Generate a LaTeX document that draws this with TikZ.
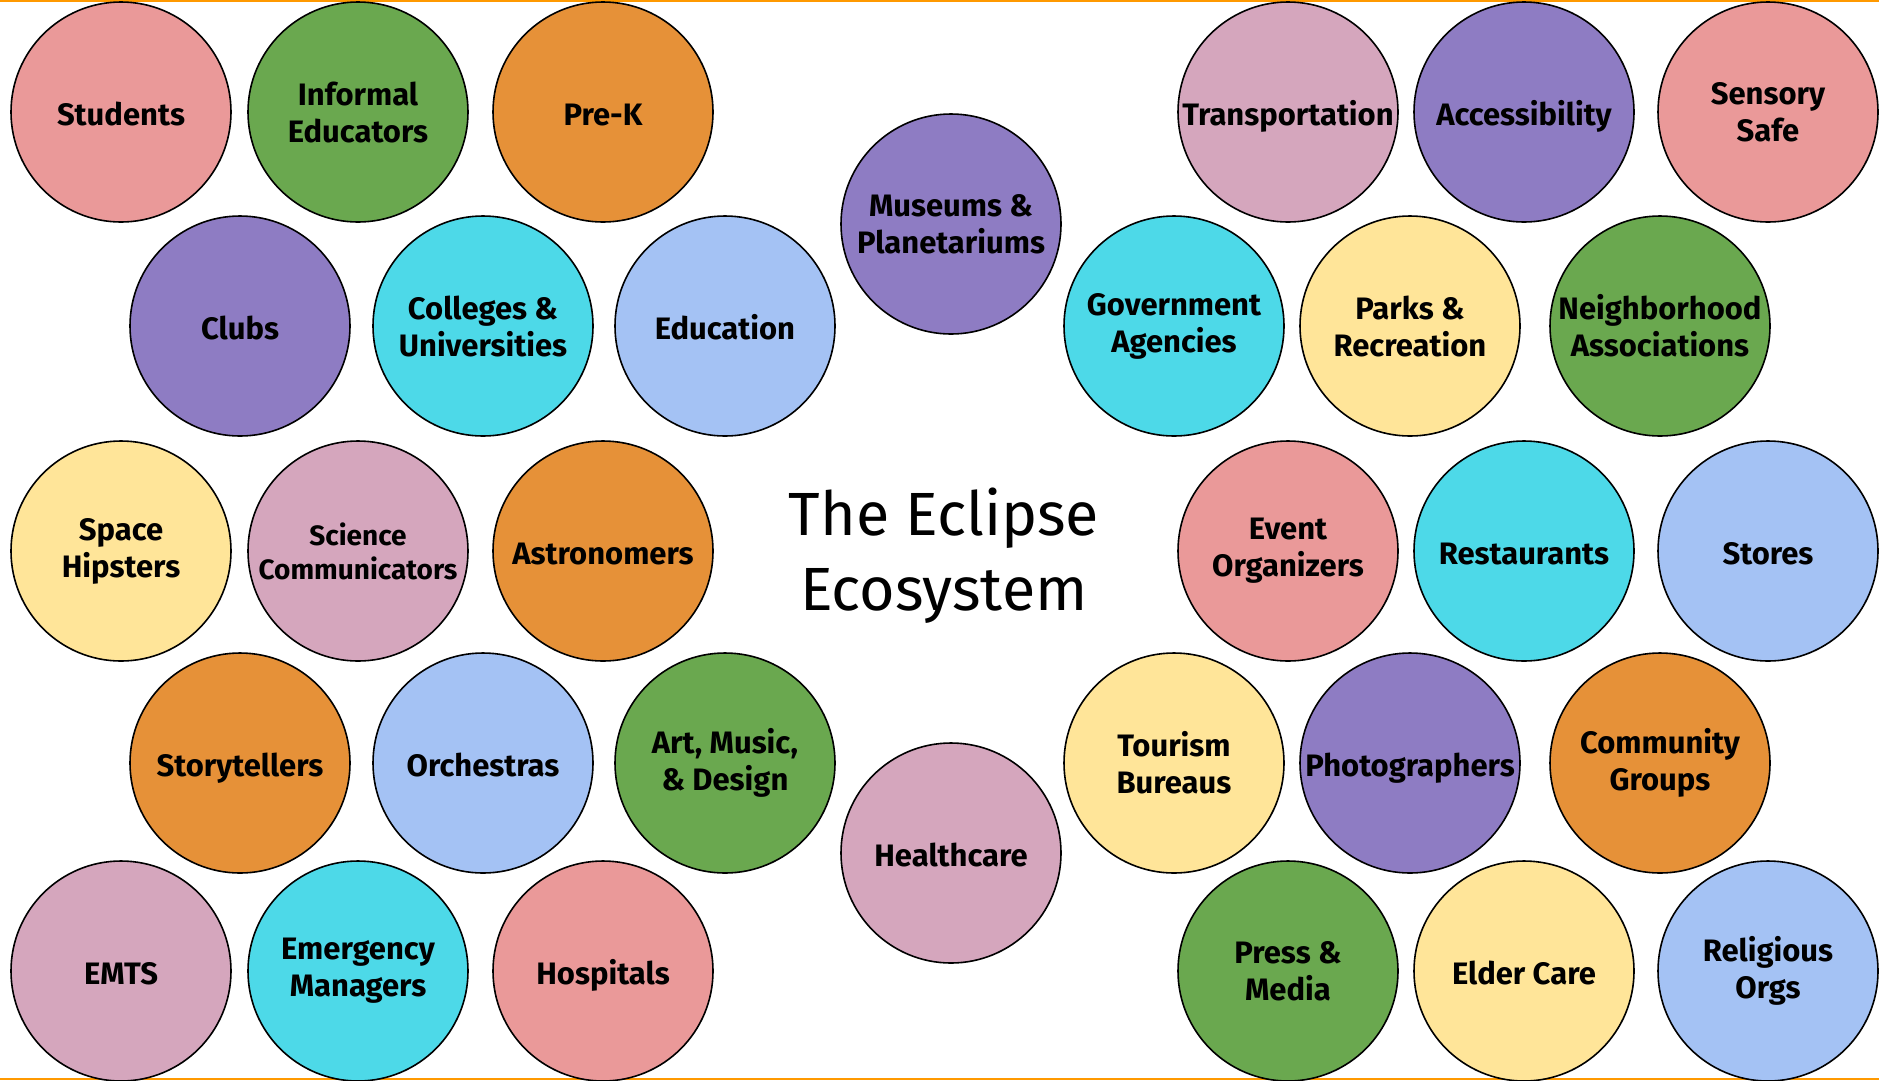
\documentclass[tikz,border=0pt]{standalone}
\usepackage{fontspec}
\setmainfont{Fira Sans}
\newfontfamily\titlefont{Fira Sans}
\usetikzlibrary{positioning}
\definecolor{cpink}{HTML}{EA9999}
\definecolor{cgreen}{HTML}{6AA84F}
\definecolor{corange}{HTML}{E69138}
\definecolor{cpurple}{HTML}{8E7CC3}
\definecolor{ccyan}{HTML}{4DD9E8}
\definecolor{cblue}{HTML}{A4C2F4}
\definecolor{cyellow}{HTML}{FFE599}
\definecolor{cmauve}{HTML}{D5A6BD}
\definecolor{frame}{HTML}{FF9900}
\tikzset{
  bubble/.style={circle, draw=black, line width=1.6pt, minimum size=220pt, inner sep=0pt,
    align=center, font=\bfseries\fontsize{31}{37}\selectfont, text=black},
  one/.style={bubble,
    execute at begin node={\rule{0pt}{33pt}},
    execute at end node={\rule[-6pt]{0pt}{6pt}}},
  two/.style={bubble, yshift=0pt},
  title/.style={align=center, font=\titlefont\fontsize{61}{75}\selectfont}
}
\begin{document}
\begin{tikzpicture}[x=1pt,y=-1pt]
\useasboundingbox (0,0) rectangle (1879,1080);
\fill[white] (0,0) rectangle (1879,1080);
\fill[frame] (0,0) rectangle (1879,2);
\fill[frame] (0,1078) rectangle (1879,1080);
% row 1
\node[one, fill=cpink]   (students) at (121,112) {Students};
\node[two, fill=cgreen]  (informal) at (358,112) {Informal\\Educators};
\node[one, fill=corange] (prek)     at (603,112) {Pre-K};
\node[one, fill=cmauve]  (transp)   at (1288,112) {Transportation};
\node[one, fill=cpurple] (access)   at (1524,112) {Accessibility};
\node[two, fill=cpink]   (sensory)  at (1768,112) {Sensory\\Safe};
\node[two, fill=cpurple] (museums)  at (951,224) {Museums \&\\Planetariums};
% row 2
\node[one, fill=cpurple] (clubs)    at (240,326) {Clubs};
\node[two, fill=ccyan]   (colleges) at (483,326) {Colleges \&\\Universities};
\node[one, fill=cblue]   (educ)     at (725,326) {Education};
\node[two, fill=ccyan]   (gov)      at (1174,326) {Government\\Agencies};
\node[two, fill=cyellow] (parks)    at (1410,326) {Parks \&\\Recreation};
\node[two, fill=cgreen]  (neigh)    at (1660,326) {Neighborhood\\Associations};
% row 3
\node[two, fill=cyellow] (space)    at (121,551) {Space\\Hipsters};
\node[two, fill=cmauve, font=\bfseries\fontsize{28}{34}\selectfont] (science) at (358,551) {Science\\Communicators};
\node[one, fill=corange] (astro)    at (603,551) {Astronomers};
\node[two, fill=cpink]   (event)    at (1288,551) {Event\\Organizers};
\node[one, fill=ccyan]   (rest)     at (1524,551) {Restaurants};
\node[one, fill=cblue]   (stores)   at (1768,551) {Stores};
\node[title] (ttl) at (944,556) {The Eclipse\\Ecosystem};
% row 4
\node[one, fill=corange] (story)    at (240,763) {Storytellers};
\node[one, fill=cblue]   (orch)     at (483,763) {Orchestras};
\node[two, fill=cgreen]  (art)      at (725,763) {Art, Music,\\\& Design};
\node[two, fill=cyellow] (tourism)  at (1174,763) {Tourism\\Bureaus};
\node[one, fill=cpurple] (photo)    at (1410,763) {Photographers};
\node[two, fill=corange] (commun)   at (1660,763) {Community\\Groups};
\node[one, fill=cmauve]  (health)   at (951,853) {Healthcare};
% row 5
\node[one, fill=cmauve]  (emts)     at (121,971) {EMTS};
\node[two, fill=ccyan]   (emerg)    at (358,971) {Emergency\\Managers};
\node[one, fill=cpink]   (hosp)     at (603,971) {Hospitals};
\node[two, fill=cgreen]  (press)    at (1288,971) {Press \&\\Media};
\node[one, fill=cyellow] (elder)    at (1524,971) {Elder Care};
\node[two, fill=cblue]   (relig)    at (1768,971) {Religious\\Orgs};
\end{tikzpicture}
\end{document}
